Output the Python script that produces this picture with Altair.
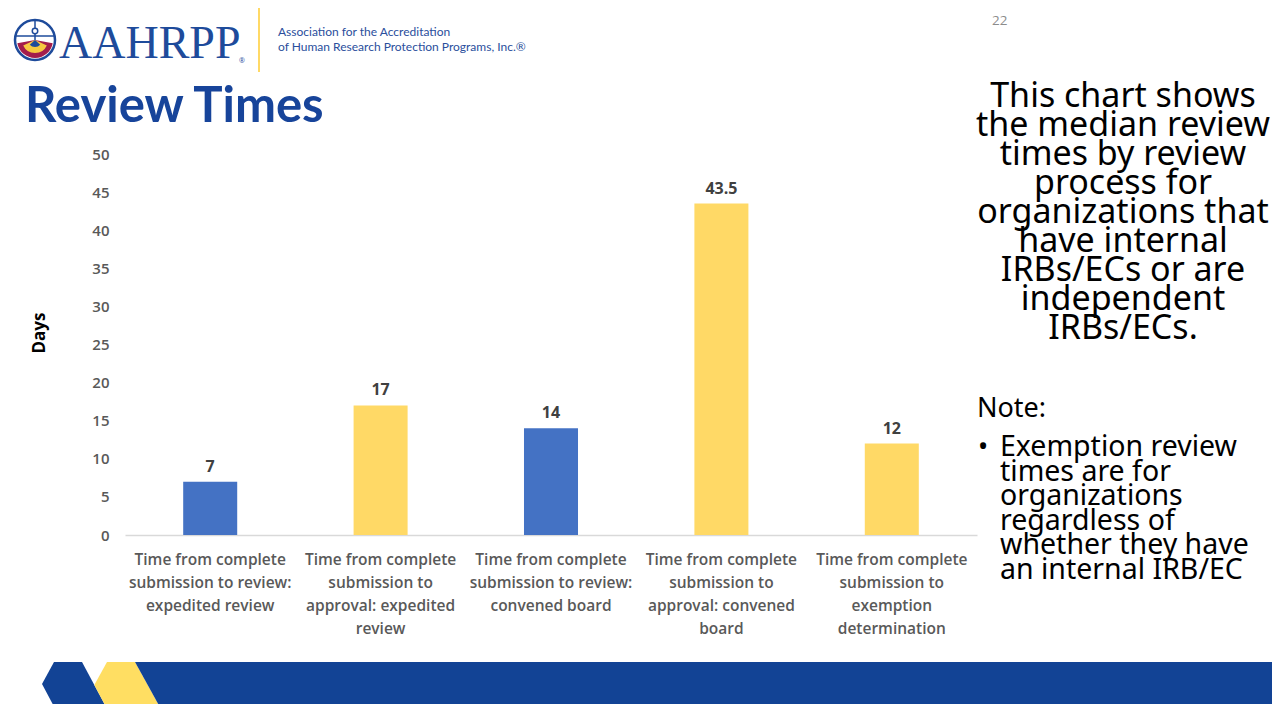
import altair as alt
import pandas as pd

# ---- data ----
categories = [
    "Time from complete|submission to review:|expedited review",
    "Time from complete|submission to|approval: expedited|review",
    "Time from complete|submission to review:|convened board",
    "Time from complete|submission to|approval: convened|board",
    "Time from complete|submission to|exemption|determination",
]
values = [7, 17, 14, 43.5, 12]
bar_colors = ["#4472C4", "#FFD966", "#4472C4", "#FFD966", "#FFD966"]
y_ticks = [0, 5, 10, 15, 20, 25, 30, 35, 40, 45, 50]

side_lines = ["This chart shows", "the median review", "times by review", "process for",
              "organizations that", "have internal", "IRBs/ECs or are", "independent", "IRBs/ECs."]
note_lines = ["Exemption review", "times are for", "organizations", "regardless of",
              "whether they have", "an internal IRB/EC"]

# ---- layout (page pixels) ----
OX, OY = 125, 154
W, H = 852, 381
BLUE = "#124395"
FONT = "Open Sans"

one = pd.DataFrame({"a": [0]})


def px(x):
    return alt.value(x - OX)


def py(y):
    return alt.value(y - OY)


def txt(text, x, y, **kw):
    return alt.Chart(one).mark_text(**kw).encode(x=px(x), y=py(y), text=alt.value(text))


df = pd.DataFrame({"cat": categories, "days": values, "color": bar_colors})

x_enc = alt.X(
    "cat:N", sort=None,
    scale=alt.Scale(paddingInner=0.683, paddingOuter=0.3415),
    axis=alt.Axis(title=None, orient="bottom", labelExpr="split(datum.label, '|')", labelAngle=0,
                  labelFont=FONT, labelFontSize=15.5, labelFontWeight=600, labelColor="#595959",
                  labelLineHeight=23, labelPadding=17, labelLimit=400, ticks=False,
                  domainColor="#D9D9D9", domainWidth=1.3),
)
y_enc = alt.Y(
    "days:Q",
    scale=alt.Scale(domain=[0, 50], nice=False),
    axis=alt.Axis(title=None, orient="left", values=y_ticks, tickCount=11, grid=False, domain=False,
                  ticks=False, labelFont=FONT, labelFontSize=15, labelFontWeight=600,
                  labelColor="#595959", labelPadding=16, labelOverlap=False),
)

bars = alt.Chart(df).mark_bar().encode(x=x_enc, y=y_enc, color=alt.Color("color:N", scale=None))
bar_labels = alt.Chart(df).mark_text(dy=-10, baseline="alphabetic", font=FONT, fontSize=16,
                                     fontWeight="bold", color="#404040").encode(
    x=x_enc, y=y_enc, text="days:Q")

days_title = alt.Chart(one).mark_text(angle=270, font=FONT, fontSize=17, fontWeight="bold",
                                      color="#000000", baseline="middle", align="center").encode(
    x=px(40), y=py(333), text=alt.value("Days"))

title = txt("Review Times", 25, 122, font="Lato", fontSize=49, fontWeight="bold",
            color="#17449A", align="left", baseline="alphabetic")

side = txt(side_lines, 1123, 107, font="Noto Sans", fontSize=34, lineHeight=29,
           color="#000000", align="center", baseline="alphabetic")
note = txt("Note:", 977, 417, font="Noto Sans", fontSize=27, color="#000000",
           align="left", baseline="alphabetic")
bullet = txt("\u2022", 978, 456, font="Noto Sans", fontSize=27, color="#000000",
             align="left", baseline="alphabetic")
note_body = txt(note_lines, 1000, 456, font="Noto Sans", fontSize=28.5, lineHeight=24.6,
                color="#000000", align="left", baseline="alphabetic")
page_no = txt("22", 992, 25, font=FONT, fontSize=13.5, color="#8C8C8C",
              align="left", baseline="alphabetic")

# ---- logo ----
logo_word = txt("AAHRPP", 59, 58, font="Liberation Serif", fontSize=46, color="#1E4B9B",
                align="left", baseline="alphabetic")
logo_r = txt("\u00ae", 239, 63, font=FONT, fontSize=7, color="#1E4B9B",
             align="left", baseline="alphabetic")
assoc1 = txt("Association for the Accreditation", 278, 36, font="Lato", fontSize=12,
             color="#2A4E9C", align="left", baseline="alphabetic")
assoc2 = txt("of Human Research Protection Programs, Inc.\u00ae", 278, 51, font="Lato", fontSize=12,
             color="#2A4E9C", align="left", baseline="alphabetic")
divider = alt.Chart(one).mark_rule(color="#FFD966", strokeWidth=2).encode(
    x=px(259), y=py(8), y2=py(72))


def arc(r, t0, t1, color):
    return alt.Chart(one).mark_arc(color=color).encode(
        x=px(35), y=py(40), radius=alt.value(r), theta=alt.value(t0), theta2=alt.value(t1))


globe_red = arc(18, 1.75, 4.53, "#A31D4B")
globe_yel = arc(13, 2.0, 4.28, "#F7C940")
globe_blue = arc(7, 2.3, 3.98, "#1E4B9B")
globe_ring = alt.Chart(one).mark_point(shape="circle", size=1600, filled=False, strokeWidth=2.5,
                                       color="#1E4B9B", opacity=1).encode(x=px(35), y=py(40))
globe_h = alt.Chart(one).mark_rule(color="#1E4B9B", strokeWidth=1.5).encode(
    x=px(16), x2=px(54), y=py(36))
globe_v = alt.Chart(one).mark_rule(color="#1E4B9B", strokeWidth=1.5).encode(
    x=px(35), y=py(21), y2=py(40))
globe_head = alt.Chart(one).mark_point(shape="circle", size=30, filled=True, color="#FFFFFF",
                                       opacity=1, stroke="#1E4B9B", strokeWidth=1.5).encode(
    x=px(35), y=py(31))

# ---- bottom band (page coordinate shapes) ----
xs = alt.Scale(domain=[0, 1280], range=[-OX, 1280 - OX], nice=False, zero=False)
ys = alt.Scale(domain=[0, 720], range=[-OY, 720 - OY], nice=False, zero=False)


def shape(ypts, xl, xr, color):
    d = pd.DataFrame({"y": ypts, "xl": xl, "xr": xr})
    return alt.Chart(d).mark_area(orient="horizontal", color=color, opacity=1).encode(
        y=alt.Y("y:Q", scale=ys, axis=None),
        x=alt.X("xl:Q", scale=xs, axis=None),
        x2="xr:Q",
    )


maroon = shape([708, 720], [27, 21], [70, 80], "#9E0C4E")
chev_blue = shape([662, 684, 720], [54, 42, 61.2], [82, 93.8, 113], BLUE)
chev_yel = shape([662, 685, 720], [107, 94.3, 113], [135, 147.7, 167], "#FFDE62")
big_blue = shape([662, 720], [135, 167], [1290, 1290], BLUE)

deco = alt.layer(maroon, chev_blue, chev_yel, big_blue)
main = alt.layer(bars, bar_labels, days_title, title, side, note, bullet, note_body, page_no,
                 logo_word, logo_r, assoc1, assoc2, divider,
                 globe_red, globe_yel, globe_blue, globe_ring, globe_h, globe_v, globe_head)

chart = alt.layer(deco, main).resolve_scale(x="independent", y="independent").properties(
    width=W, height=H,
    autosize=alt.AutoSizeParams(type="none"),
    padding={"left": OX - 8, "top": OY - 8, "right": 1272 - OX - W, "bottom": 704 - OY - H},
    background="#FFFFFF",
).configure_view(stroke=None)

chart.save("out.html", embed_options={"renderer": "svg", "actions": False})
